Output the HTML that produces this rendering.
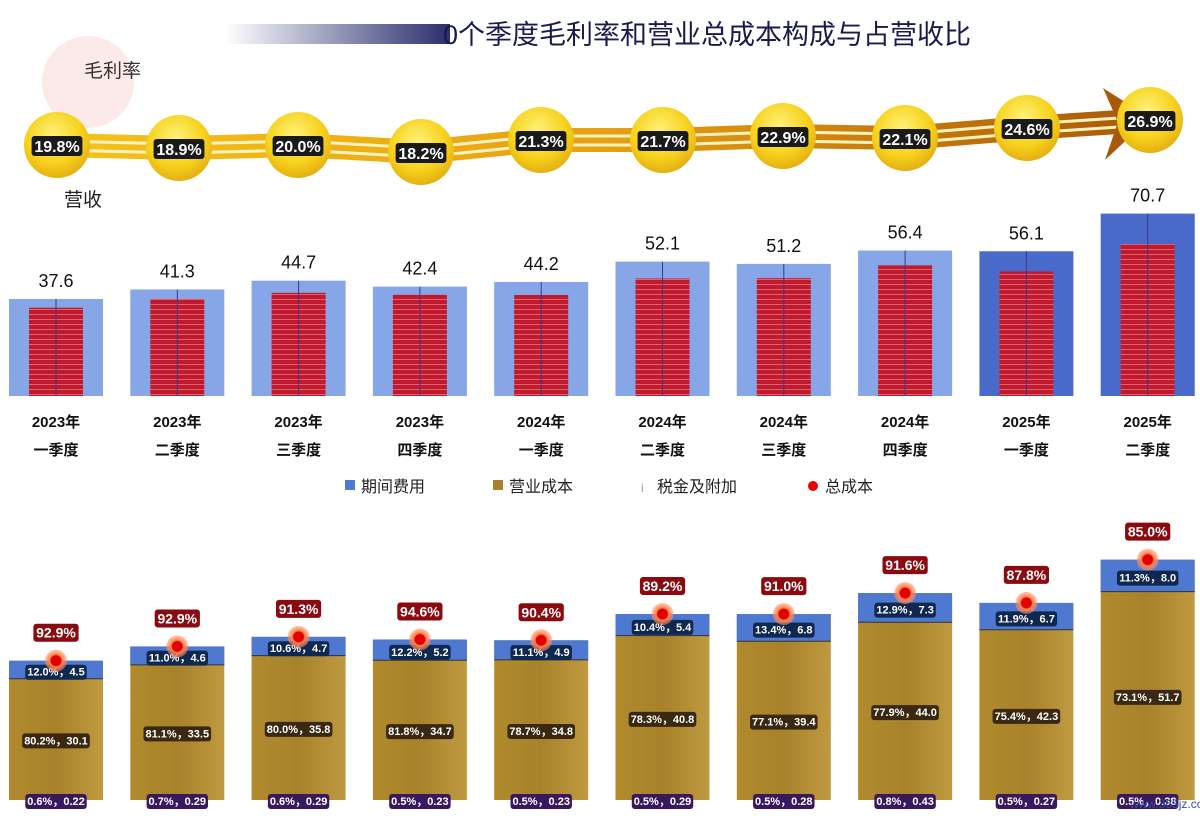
<!DOCTYPE html>
<html><head><meta charset="utf-8"><style>
body{margin:0;background:#fff;width:1200px;height:821px;overflow:hidden;font-family:"Liberation Sans","Noto Sans CJK SC",sans-serif}
</style></head><body>
<svg id="s" width="1200" height="821" xmlns="http://www.w3.org/2000/svg" font-family="Liberation Sans, Noto Sans CJK SC, sans-serif">
<defs>
<linearGradient id="tg" x1="0" x2="1"><stop offset="0" stop-color="#fff"/><stop offset="1" stop-color="#2a2f6e"/></linearGradient>
<linearGradient id="band" x1="0" x2="1"><stop offset="0" stop-color="#f5c21a"/><stop offset="0.5" stop-color="#e8a010"/><stop offset="1" stop-color="#a85a08"/></linearGradient>
<radialGradient id="ball" cx="0.45" cy="0.35" r="0.7"><stop offset="0" stop-color="#fff27a"/><stop offset="0.6" stop-color="#f7d21c"/><stop offset="1" stop-color="#e0a810"/></radialGradient>
<linearGradient id="gold" x1="0" x2="1"><stop offset="0" stop-color="#b08a2c"/><stop offset="0.5" stop-color="#a8822a"/><stop offset="1" stop-color="#c09a40"/></linearGradient>
<pattern id="red" width="10" height="5" patternUnits="userSpaceOnUse"><rect width="10" height="5" fill="#c01a2e"/><rect y="4" width="10" height="1" fill="#e06070"/></pattern>
<radialGradient id="dot"><stop offset="0.45" stop-color="#e00000"/><stop offset="0.55" stop-color="#ff8040"/><stop offset="1" stop-color="#ff9070" stop-opacity="0.5"/></radialGradient>
</defs>
<rect x="225" y="24" width="225" height="20" fill="url(#tg)"/>
<text x="443" y="44" font-size="27" fill="#1a1a50">0个季度毛利率和营业总成本构成与占营收比</text>
<circle cx="88" cy="82" r="46" fill="#fbe3e3" opacity="0.8"/>
<text x="84" y="77" font-size="19" fill="#333">毛利率</text>
<text x="64" y="206" font-size="19" fill="#222">营收</text>
<g id="g"></g>
</svg>
<script>
(function(){
var rev=[37.6,41.3,44.7,42.4,44.2,52.1,51.2,56.4,56.1,70.7];
var gm=[19.8,18.9,20.0,18.2,21.3,21.7,22.9,22.1,24.6,26.9];
var by=[145,148,145,152,140,140,136,138,128,120];
var bx=[57,179,298,421,541,663,783,905,1027,1150];
var cp=[92.9,92.9,91.3,94.6,90.4,89.2,91.0,91.6,87.8,85.0];
var fee=[[12.0,4.5],[11.0,4.6],[10.6,4.7],[12.2,5.2],[11.1,4.9],[10.4,5.4],[13.4,6.8],[12.9,7.3],[11.9,6.7],[11.3,8.0]];
var cg=[[80.2,30.1],[81.1,33.5],[80.0,35.8],[81.8,34.7],[78.7,34.8],[78.3,40.8],[77.1,39.4],[77.9,44.0],[75.4,42.3],[73.1,51.7]];
var tx=[[0.6,0.22],[0.7,0.29],[0.6,0.29],[0.5,0.23],[0.5,0.23],[0.5,0.29],[0.5,0.28],[0.8,0.43],[0.5,0.27],[0.5,0.38]];
var yr=["2023年","2023年","2023年","2023年","2024年","2024年","2024年","2024年","2025年","2025年"];
var q=["一季度","二季度","三季度","四季度","一季度","二季度","三季度","四季度","一季度","二季度"];
var h='';
function lab(x,y,t,bg,fs,col){var w=t.length*fs*0.56+6;return '<rect x="'+(x-w/2)+'" y="'+(y-fs+1)+'" width="'+w+'" height="'+(fs+4)+'" rx="3" fill="'+bg+'"/><text x="'+x+'" y="'+(y+1)+'" font-size="'+fs+'" font-weight="bold" fill="'+(col||'#fff')+'" text-anchor="middle">'+t+'</text>';}
var i;
var bandPts='';
for(i=0;i<10;i++)bandPts+=(i?'L':'M')+bx[i]+' '+(by[i]-12);
for(i=9;i>=0;i--)bandPts+='L'+bx[i]+' '+(by[i]+12);
h+='<path d="'+bandPts+'Z" fill="url(#band)"/>';
var l1='',l2='';for(i=0;i<10;i++){l1+=(i?'L':'M')+bx[i]+' '+(by[i]-4);l2+=(i?'L':'M')+bx[i]+' '+(by[i]+5);}
h+='<path d="'+l1+'" stroke="#fff3c0" stroke-width="3" fill="none"/><path d="'+l2+'" stroke="#fff3c0" stroke-width="3" fill="none"/>';
h+='<path d="M1103 88 L1150 118 L1105 160 L1118 122 Z" fill="#a85a08"/>';
for(i=0;i<10;i++){
h+='<circle cx="'+bx[i]+'" cy="'+by[i]+'" r="33" fill="url(#ball)"/>';
h+=lab(bx[i],by[i]+6,gm[i].toFixed(1)+'%','#1a1a1a',16);
var cx=56+i*121.3;
var bh=rev[i]*2.58, bt=396-bh;
h+='<rect x="'+(cx-47)+'" y="'+bt+'" width="94" height="'+bh+'" fill="'+(i>=8?'#4a6acb':'#86a6e8')+'"/>';
var rh=bh*cp[i]/100*0.98;
h+='<rect x="'+(cx-27)+'" y="'+(396-rh)+'" width="54" height="'+rh+'" fill="url(#red)"/>';
h+='<line x1="'+cx+'" x2="'+cx+'" y1="'+bt+'" y2="396" stroke="#3a3a8a" stroke-width="1"/>';
h+='<text x="'+cx+'" y="'+(bt-12)+'" font-size="18" fill="#111" text-anchor="middle">'+rev[i].toFixed(1)+'</text>';
h+='<text x="'+cx+'" y="427" font-size="15" font-weight="bold" fill="#111" text-anchor="middle">'+yr[i]+'</text>';
h+='<text x="'+cx+'" y="455" font-size="15" font-weight="bold" fill="#111" text-anchor="middle">'+q[i]+'</text>';
var tot=fee[i][1]+cg[i][1]+tx[i][1];var s=4.0;var tp=800-tot*s;var fh=fee[i][1]*s;
h+='<rect x="'+(cx-47)+'" y="'+tp+'" width="94" height="'+(800-tp)+'" fill="url(#gold)"/>';
h+='<rect x="'+(cx-47)+'" y="'+tp+'" width="94" height="'+fh+'" fill="#4f79d0"/>';
h+='<line x1="'+(cx-47)+'" x2="'+(cx+47)+'" y1="'+(tp+fh)+'" y2="'+(tp+fh)+'" stroke="#333"/>';
h+=lab(cx,tp+fh/2+5,fee[i][0].toFixed(1)+'%，'+fee[i][1].toFixed(1),'#0e2850',11);
h+=lab(cx,(tp+fh+800)/2+4,cg[i][0].toFixed(1)+'%，'+cg[i][1].toFixed(1),'#3a2810',11);
h+=lab(cx,804,tx[i][0].toFixed(1)+'%，'+tx[i][1].toFixed(2),'#3a1860',11);
h+='<circle cx="'+cx+'" cy="'+tp+'" r="11" fill="url(#dot)"/>';
h+=lab(cx,tp-24,cp[i].toFixed(1)+'%','#8a0a10',14);
}
h+='<rect x="345" y="480" width="10" height="10" fill="#4f79d0"/><text x="361" y="492" font-size="16" fill="#222">期间费用</text>';
h+='<rect x="493" y="480" width="10" height="10" fill="#a8822a"/><text x="509" y="492" font-size="16" fill="#222">营业成本</text>';
h+='<text x="641" y="492" font-size="12" fill="#c080e0">i</text><text x="657" y="492" font-size="16" fill="#222">税金及附加</text>';
h+='<circle cx="813" cy="486" r="5" fill="#e00"/><text x="825" y="492" font-size="16" fill="#222">总成本</text>';
h+='<text x="1130" y="808" font-size="12" fill="#3050a0">www.365jz.com</text>';
document.getElementById('g').innerHTML=h;
})();
</script>
</body></html>
